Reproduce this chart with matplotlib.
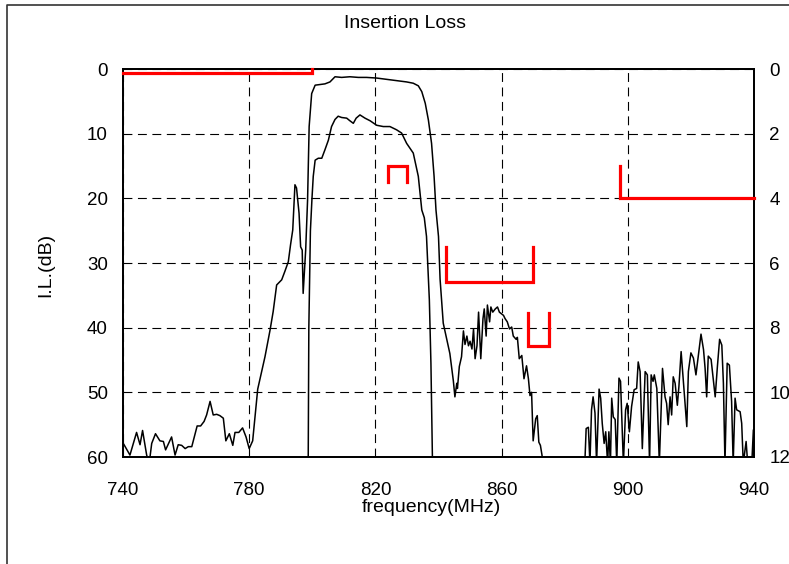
import matplotlib
matplotlib.use("Agg")
import matplotlib.pyplot as plt
from matplotlib.lines import Line2D

plt.rcParams['font.family'] = ['Liberation Sans', 'DejaVu Sans']

# wide-range response, I.L. in dB (left axis); 61/62 = below the plot floor
wide_freq = [740.1, 742.2, 744.3, 745.4, 746.2, 747.5, 748.3, 749.1, 750.3, 751.7,
             752.8, 753.5, 754.9, 755.4, 756.5, 757.5, 758.6, 759.7, 760.7, 761.8,
             763.5, 764.6, 765.7, 766.5, 767.6, 768.6, 769.7, 770.7, 771.8, 772.6,
             773.7, 774.8, 775.5, 776.7, 777.9, 779.0, 780.0, 781.1, 782.7, 785.0,
             786.6, 787.6, 788.7, 790.3, 791.3, 792.4, 793.1, 793.8, 794.5, 795.0,
             795.8, 796.3, 796.8, 797.1, 797.9, 798.5, 799.0, 799.8, 800.9, 802.4,
             804.0, 805.6, 807.2, 809.3, 811.9, 814.6, 817.2, 820.4, 823.6, 826.7,
             829.9, 832.0, 833.6, 834.7, 835.8, 836.8, 837.8, 838.6, 839.2, 840.0,
             840.5, 841.5, 843.6, 844.7, 845.2, 845.8, 846.0, 846.6, 847.3, 847.9,
             848.4, 849.0, 849.5, 850.0, 850.6, 851.1, 851.6, 852.2, 852.7, 853.4,
             854.1, 854.5, 855.1, 855.5, 856.2, 856.6, 857.2, 858.0, 858.7, 859.3,
             860.1, 860.6, 861.1, 861.8, 862.5, 863.2, 863.7, 864.6, 865.0, 865.6,
             866.4, 867.1, 867.9, 868.5, 869.0, 869.5, 870.0, 870.8, 871.3, 871.8,
             872.3, 872.8, 873.3, 886.3, 886.8, 887.5, 888.0, 888.5, 889.0, 889.6,
             890.1, 890.9, 891.4, 891.9, 892.5, 893.0, 893.6, 894.0, 894.5, 894.9,
             895.4, 896.0, 896.5, 897.2, 897.7, 898.6, 899.3, 899.8, 900.5, 901.2,
             902.0, 902.8, 903.3, 903.9, 904.6, 905.5, 906.2, 906.9, 907.4, 908.0,
             908.4, 909.2, 910.0, 911.0, 911.8, 912.3, 912.8, 913.4, 913.9, 914.4,
             915.0, 915.7, 916.2, 916.9, 917.6, 918.7, 919.2, 920.0, 920.8, 921.6,
             922.4, 923.2, 924.0, 924.5, 925.0, 925.5, 926.4, 927.1, 927.7, 928.4,
             929.1, 929.8, 930.3, 930.8, 931.5, 932.2, 932.9, 933.4, 934.0, 934.5,
             935.6, 936.1, 936.6, 937.5, 938.0, 939.3, 939.8, 940.0]
wide_il = [57.9, 59.7, 56.2, 58.1, 55.9, 59.7, 61, 57.9, 56.4, 57.5,
           57.6, 58.9, 57.4, 56.9, 59.7, 58.1, 58.2, 58.7, 58.4, 58.4,
           55.2, 55.2, 54.5, 53.5, 51.4, 53.5, 53.4, 53.6, 54.0, 57.5,
           56.4, 58.2, 56.2, 56.2, 55.5, 56.9, 58.7, 57.5, 49.5, 44.5,
           40.4, 37.5, 33.4, 32.6, 31.3, 29.8, 27.2, 24.9, 17.9, 18.4,
           22.3, 27.5, 28.0, 34.7, 28.0, 20.3, 8.9, 3.8, 2.5, 2.4,
           2.3, 2.0, 1.2, 1.3, 1.2, 1.3, 1.3, 1.4, 1.6, 1.8,
           2.0, 2.2, 2.6, 3.5, 5.3, 7.9, 11.5, 16.6, 21.8, 25.9,
           32.5, 39.3, 44.0, 48.2, 50.7, 48.6, 49.4, 46.0, 44.5, 40.5,
           42.6, 41.3, 42.8, 42.1, 43.3, 40.2, 44.8, 42.8, 37.6, 44.8,
           38.6, 37.1, 41.3, 36.5, 39.1, 36.8, 37.6, 37.1, 36.8, 37.6,
           37.9, 38.1, 38.6, 39.1, 40.2, 39.9, 41.3, 41.8, 41.5, 44.8,
           44.3, 47.9, 45.9, 47.9, 50.5, 50.0, 57.5, 54.1, 53.6, 57.7,
           58.2, 59.7, 62, 62, 55.6, 55.4, 61, 52.7, 50.7, 53.2,
           61, 49.5, 50.9, 54.8, 57.9, 56.1, 61, 56.1, 61, 50.9,
           53.8, 54.2, 61, 47.8, 48.3, 61, 52.7, 51.7, 56.1, 52.2,
           49.6, 49.4, 45.3, 46.8, 58.7, 46.8, 47.3, 61, 47.3, 48.3,
           47.3, 49.4, 61, 46.3, 50.7, 51.7, 55.0, 50.7, 53.5, 47.6,
           48.6, 52.0, 49.1, 43.7, 48.3, 55.3, 46.8, 43.9, 44.7, 47.3,
           44.2, 41.0, 43.4, 46.3, 50.7, 44.4, 44.9, 48.1, 50.7, 46.0,
           41.8, 42.7, 48.6, 61, 45.5, 45.8, 51.4, 61, 50.9, 52.7,
           53.0, 54.8, 61, 57.6, 61, 61, 55.8, 61]

# passband detail, I.L. in dB (right axis 0-12)
pass_freq = [798.7, 798.9, 799.4, 799.9, 800.3, 800.9, 801.9, 803.0, 804.0, 805.1,
             806.1, 807.2, 808.2, 809.3, 810.9, 811.9, 813.0, 813.9, 815.1, 816.7,
             818.3, 820.4, 822.5, 824.6, 826.7, 828.3, 829.9, 832.0, 833.6, 834.7,
             835.5, 836.2, 837.1, 837.6, 838.1]
pass_il = [12.2, 8.0, 5.0, 4.0, 3.32, 2.82, 2.76, 2.76, 2.5, 2.2,
           1.78, 1.56, 1.46, 1.5, 1.52, 1.6, 1.68, 1.52, 1.42, 1.52,
           1.6, 1.74, 1.78, 1.78, 1.88, 1.98, 2.3, 2.6, 3.32, 4.36,
           4.6, 5.18, 7.14, 9.1, 12.2]

# spec masks (left axis, dB)
mask1_f = [740, 800, 800]
mask1_il = [0.6, 0.6, 0]
mask2_f = [824, 824, 830, 830]
mask2_il = [17.5, 15, 15, 17.5]
mask3_f = [842.5, 842.5, 870, 870]
mask3_il = [27.5, 33, 33, 27.5]
mask4_f = [868.5, 868.5, 875, 875]
mask4_il = [37.8, 42.8, 42.8, 37.8]
mask5_f = [897.5, 897.5, 940]
mask5_il = [15, 20, 20]

x_ticks = [740, 780, 820, 860, 900, 940]
left_ticks = [0, 10, 20, 30, 40, 50, 60]
right_ticks = [0, 2, 4, 6, 8, 10, 12]

W, H = 789, 564
fig = plt.figure(figsize=(W / 100, H / 100), dpi=100)
ax = fig.add_axes([123 / W, 1 - 457 / H, (754 - 123) / W, (457 - 69) / H])

ax.set_xlim(740, 940)
ax.set_ylim(60, 0)
ax.set_xticks(x_ticks)
ax.set_yticks(left_ticks)
ax.tick_params(length=0, labelsize=13.5)
ax.tick_params(axis='y', pad=11)
ax.tick_params(axis='x', pad=18)
ax.grid(True, color='black', linestyle=(0, (8, 5)), linewidth=0.8)
for s in ax.spines.values():
    s.set_linewidth(1.3)

ax2 = ax.twinx()
ax2.set_ylim(12, 0)
ax2.set_yticks(right_ticks)
ax2.tick_params(length=0, labelsize=13.5, pad=11)
for s in ax2.spines.values():
    s.set_linewidth(1.3)

ax.plot(wide_freq, wide_il, color='black', linewidth=1.1, zorder=3)
ax2.plot(pass_freq, pass_il, color='black', linewidth=1.1, zorder=3)

for mf, mi in [(mask1_f, mask1_il), (mask2_f, mask2_il), (mask3_f, mask3_il),
               (mask4_f, mask4_il), (mask5_f, mask5_il)]:
    ax2.plot(mf, [v / 5 for v in mi], color='red', linewidth=2.3,
             solid_joinstyle='miter', zorder=4, clip_on=False)

ax.set_xlabel('frequency(MHz)', fontsize=14)
ax.xaxis.set_label_coords((431 - 123) / 631, (457 - 499) / 388)
ax.set_ylabel('I.L.(dB)', fontsize=14)
ax.yaxis.set_label_coords((54 - 123) / 631, (457 - 265) / 388)
fig.text(405 / W, 1 - 23 / H, 'Insertion Loss', ha='center', va='center', fontsize=14)

# outer frame (runs off the right and bottom edges)
fig.add_artist(Line2D([7 / W, 7 / W, 1.05], [-0.05, 1 - 5 / H, 1 - 5 / H],
                      transform=fig.transFigure, color='#333333', linewidth=1.2))

fig.savefig('out.png', dpi=100)
